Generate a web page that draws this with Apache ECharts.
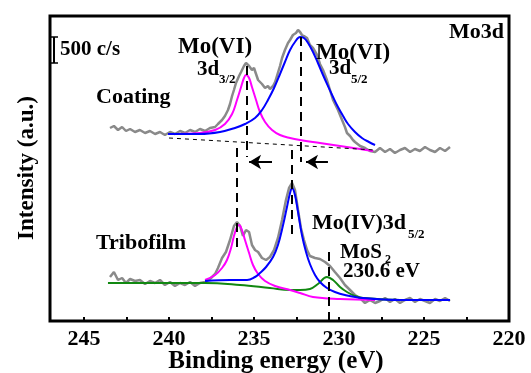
<!DOCTYPE html>
<html>
<head>
<meta charset="utf-8">
<script src="https://cdn.jsdelivr.net/npm/echarts@6/dist/echarts.min.js"></script>
<style>
html,body{margin:0;padding:0;background:#fff;}
#chart{width:531px;height:373px;}
</style>
</head>
<body>
<div id="chart"></div>
<script>
// Binding energy (eV) vs intensity (c/s)
const xTicks = [245, 240, 235, 230, 225, 220];

const coatingRaw = [
[243.47,3860],[243.24,3900],[243.0,3820],[242.76,3880],[242.53,3800],[242.29,3840],[242.0,3780],[241.71,3820],
[241.41,3760],[241.12,3800],[240.82,3740],[240.53,3780],[240.24,3720],[239.94,3780],[239.65,3740],[239.35,3800],
[239.06,3760],[238.76,3820],[238.47,3780],[238.18,3840],[237.88,3800],[237.59,3860],[237.29,3880],[237.12,3940],
[236.88,4020],[236.71,4100],[236.53,4220],[236.41,4340],[236.29,4500],[236.18,4620],[236.06,4760],[235.88,4900],
[235.76,4980],[235.59,5100],[235.47,5160],[235.29,5100],[235.12,5020],[235.0,5060],[234.88,4940],[234.76,4820],
[234.65,4840],[234.53,4740],[234.35,4660],[234.18,4700],[234.06,4640],[233.88,4700],[233.76,4780],[233.65,4900],
[233.47,5100],[233.35,5260],[233.18,5420],[233.0,5560],[232.88,5620],[232.71,5720],[232.53,5760],[232.41,5820],
[232.29,5780],[232.18,5720],[232.06,5700],[231.88,5660],[231.71,5520],[231.53,5460],[231.29,5320],[231.12,5140],
[230.94,5020],[230.71,4820],[230.53,4620],[230.35,4420],[230.06,4220],[229.82,4020],[229.65,3880],[229.53,3760],
[229.35,3700],[229.18,3620],[229.06,3580],[228.76,3500],[228.47,3460],[228.18,3400],[227.88,3380],[227.59,3460],
[227.29,3380],[227.0,3440],[226.71,3360],[226.41,3420],[226.12,3460],[225.82,3380],[225.53,3440],[225.24,3400],
[224.94,3480],[224.65,3420],[224.35,3380],[224.06,3460],[223.76,3400],[223.47,3480]
];
const coatingMoVI52 = [
[240.06,3740],[238.18,3740],[237.0,3780],[236.12,3860],[235.53,3940],[234.94,4060],[234.53,4220],[234.18,4420],
[233.82,4660],[233.47,4940],[233.18,5180],[232.88,5420],[232.59,5580],[232.29,5680],[232.06,5660],[231.82,5560],
[231.53,5380],[231.24,5160],[230.94,4920],[230.65,4700],[230.35,4480],[230.06,4280],[229.76,4100],[229.47,3940],
[229.06,3780],[228.65,3660],[228.24,3580],[227.88,3520]
];
const coatingMoVI32 = [
[240.06,3740],[238.18,3760],[237.29,3820],[236.71,3940],[236.29,4140],[236.0,4420],[235.76,4680],[235.59,4860],
[235.47,4920],[235.29,4860],[235.12,4680],[234.88,4420],[234.65,4180],[234.35,3980],[233.94,3820],[233.47,3720],
[232.88,3660],[232.29,3620],[231.12,3560],[229.94,3500],[228.76,3440],[228.0,3400]
];
const coatingBaseline = [[240.0,3660],[227.88,3420]];

const tribRaw = [
[243.47,880],[243.24,980],[243.0,820],[242.76,860],[242.53,760],[242.29,840],[242.0,800],[241.71,820],
[241.41,740],[241.12,800],[240.82,760],[240.53,820],[240.24,720],[239.94,780],[239.65,700],[239.35,760],
[239.06,720],[238.76,780],[238.47,700],[238.18,760],[237.88,780],[237.59,840],[237.29,940],[237.12,1060],
[236.88,1260],[236.65,1380],[236.41,1620],[236.18,1900],[236.0,1980],[235.82,1900],[235.65,1700],[235.47,1820],
[235.29,1780],[235.12,1520],[234.94,1420],[234.76,1380],[234.53,1260],[234.29,1220],[234.06,1280],[233.82,1420],
[233.59,1660],[233.35,2020],[233.12,2420],[232.94,2660],[232.76,2760],[232.59,2620],[232.41,2220],[232.24,1860],
[232.06,1620],[231.88,1420],[231.71,1300],[231.41,1260],[231.12,1240],[230.82,1180],[230.53,1100],[230.24,980],
[229.94,860],[229.65,720],[229.35,620],[229.06,520],[228.76,460],[228.47,360],[228.18,420],[227.88,360],
[227.59,400],[227.29,460],[227.0,380],[226.71,440],[226.41,360],[226.12,420],[225.82,460],[225.53,380],
[225.24,440],[224.94,400],[224.65,360],[224.35,440],[224.06,400],[223.76,460],[223.47,400]
];
const tribMoIV = [
[237.88,800],[236.41,820],[235.41,820],[234.94,880],[234.65,960],[234.29,1080],[233.88,1280],[233.59,1520],
[233.29,1920],[233.06,2280],[232.88,2560],[232.76,2660],[232.59,2520],[232.41,2180],[232.18,1720],[231.94,1380],
[231.71,1140],[231.41,920],[231.12,780],[230.71,660],[230.24,580],[229.65,520],[228.59,460],[226.41,420],[223.47,420]
];
const tribMoIV32 = [
[237.88,820],[237.29,920],[236.88,1060],[236.59,1220],[236.35,1460],[236.18,1700],[236.0,1880],[235.88,1920],
[235.71,1820],[235.53,1620],[235.29,1360],[235.06,1120],[234.76,940],[234.35,800],[233.76,700],[232.88,620],
[232.29,560],[231.53,480],[229.94,440],[227.88,420]
];
const tribMoS2 = [
[243.59,760],[241.12,760],[237.88,760],[235.82,720],[234.06,660],[232.88,620],[232.29,620],[231.71,640],
[231.24,740],[230.71,880],[230.35,820],[229.94,680],[229.53,580],[229.06,500],[228.59,460],[226.41,420],[223.47,420]
];

// vertical dashed peak markers: [eV, top, bottom]
const peakLines = [
[235.41,5100,3280],[232.24,5680,3180],[236.0,3460,1420],[232.76,3420,1680],[230.6,1380,0]
];
// shift arrows: [from eV, to eV, intensity]
const shiftArrows = [[233.94,235.29,3180],[230.65,231.94,3180]];

const FONT = "'Liberation Serif','Times New Roman',serif";
const chart = echarts.init(document.getElementById('chart'), null, {renderer:'canvas'});

function lineSeries(data, color, width, smooth, z){
  return {type:'line', data:data, showSymbol:false, symbol:'none', smooth:smooth, z:z,
    lineStyle:{color:color, width:width}, silent:true, animation:false};
}

const markData = peakLines.map(p => [{coord:[p[0],p[1]]},{coord:[p[0],p[2]]}]);
const arrowData = shiftArrows.map(a => [{coord:[a[0],a[2]]},{coord:[a[1],a[2]]}]);

const text = (t, x, y, size, align) => ({type:'text', x:x, y:y, z:100,
  style:{text:t, fontFamily:FONT, fontWeight:'bold', fontSize:size, fill:'#000',
    textAlign:align||'left', textVerticalAlign:'middle'}});

chart.setOption({
  animation:false,
  backgroundColor:'#fff',
  grid:{left:50, right:22, top:16, bottom:52, show:true, borderColor:'#000', borderWidth:3, backgroundColor:'transparent'},
  xAxis:{type:'value', min:220, max:247, interval:2.5, inverse:true,
    axisLine:{show:false},
    axisTick:{show:true, inside:true, length:4, lineStyle:{color:'#000', width:2}},
    splitLine:{show:false},
    axisLabel:{margin:7, color:'#000', fontFamily:FONT, fontWeight:'bold', fontSize:22,
      formatter:function(v){ return (xTicks.indexOf(v) >= 0) ? String(v) : ''; }}
  },
  yAxis:{type:'value', min:0, max:6100, show:false, splitLine:{show:false}},
  series:[
    lineSeries(coatingRaw, '#8a8a8a', 2.5, false, 2),
    lineSeries(tribRaw, '#8a8a8a', 2.5, false, 2),
    lineSeries(coatingMoVI32, '#ff00ff', 2, 0.4, 3),
    lineSeries(coatingMoVI52, '#0000ff', 2, 0.4, 3),
    lineSeries(tribMoS2, '#118811', 2, 0.4, 3),
    lineSeries(tribMoIV32, '#ff00ff', 2, 0.4, 3),
    lineSeries(tribMoIV, '#0000ff', 2, 0.4, 4),
    {type:'line', data:coatingBaseline, showSymbol:false, symbol:'none', z:3,
      lineStyle:{color:'#000', width:1, type:[4,4]}},
    {type:'line', data:[], z:5,
      markLine:{silent:true, symbol:['none','none'], animation:false, label:{show:false},
        lineStyle:{color:'#000', width:2, type:[9,6]}, data:markData}},
    {type:'line', data:[], z:5,
      markLine:{silent:true, symbol:['none','arrow'], symbolSize:[11,12], animation:false, label:{show:false},
        lineStyle:{color:'#000', width:2, type:'solid'}, data:arrowData}}
  ],
  graphic:[
    {type:'line', z:100, shape:{x1:54, y1:37, x2:54, y2:63}, style:{stroke:'#000', lineWidth:2}},
    {type:'line', z:100, shape:{x1:51, y1:37, x2:58, y2:37}, style:{stroke:'#000', lineWidth:1.5}},
    {type:'line', z:100, shape:{x1:51, y1:63, x2:58, y2:63}, style:{stroke:'#000', lineWidth:1.5}},
    text('500 c/s', 60, 50, 21),
    text('Mo(VI)', 215, 47, 23, 'center'),
    text('3d', 197, 70, 21),
    text('3/2', 219, 80, 13),
    text('Coating', 96, 97, 22),
    text('Mo(VI)', 316, 53, 23),
    text('3d', 329, 69, 21),
    text('5/2', 351, 80, 13),
    text('Mo3d', 504, 32, 22, 'right'),
    text('Tribofilm', 96, 243, 22),
    text('Mo(IV)3d', 312, 223, 22),
    text('5/2', 408, 235, 13),
    text('MoS', 340, 253, 21),
    text('2', 385, 260, 12),
    text('230.6 eV', 343, 272, 21),
    text('Binding energy (eV)', 276, 362, 25, 'center'),
    {type:'text', x:27, y:168, rotation:Math.PI/2, z:100,
      style:{text:'Intensity (a.u.)', fontFamily:FONT, fontWeight:'bold', fontSize:23, fill:'#000',
        textAlign:'center', textVerticalAlign:'middle'}}
  ]
});
</script>
</body>
</html>
